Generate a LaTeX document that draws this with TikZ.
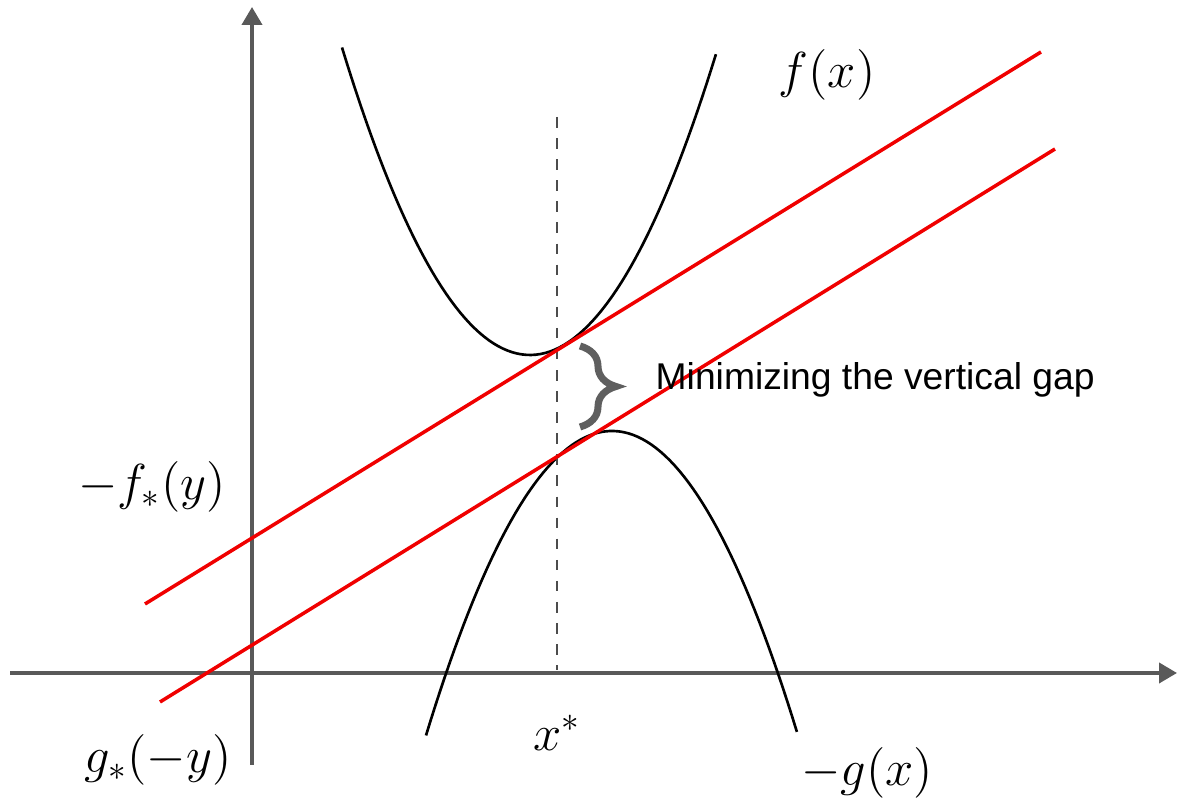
\documentclass[tikz,border=0pt]{standalone}
\usepackage{fontspec}
\usepackage{xcolor}
\usetikzlibrary{arrows.meta, decorations.pathreplacing}
\newfontfamily\labelfont{Liberation Sans}
\definecolor{axisgray}{HTML}{595959}
\definecolor{bracegray}{HTML}{5F5F5F}
\definecolor{tanred}{HTML}{F00000}

\begin{document}
\begin{tikzpicture}[
  axis/.style={
    line width=1.1pt, color=axisgray, -{Triangle[length=1.8mm, width=2mm]}
  },
  curve/.style={line width=0.75pt, color=black},
  tangent/.style={line width=1pt, color=tanred},
  guide/.style={dashed, line width=0.4pt, color=black!70},
  mathlbl/.style={font=\fontsize{14}{16}\selectfont, inner sep=1pt},
  textlbl/.style={font=\labelfont\fontsize{10.6}{13}\selectfont, inner sep=0pt}
]
\useasboundingbox (0,0) rectangle (11.78,7.98);

%% Axis positions
\def\xO{2.52}
\def\yO{1.25}
\def\xs{5.57}

%% === AXES ===
\coordinate (xl) at (0.10,\yO);
\coordinate (xr) at (11.77,\yO);
\coordinate (yb) at (\xO,0.33);
\coordinate (yt) at (\xO,7.91);
\draw[axis] (xl) -- (xr);
\draw[axis] (yb) -- (yt);

%% === CURVES f(x) and -g(x) ===
\draw[curve] plot[domain=3.42:7.16, samples=80] (\x, {4.43+0.87*(\x-5.30)^2});
\draw[curve] plot[domain=4.26:7.97, samples=80] (\x, {3.67-0.88*(\x-6.12)^2});

%% === DASHED LINE AT x* ===
\coordinate (dtop) at (\xs,6.81);
\coordinate (dbot) at (\xs,1.28);
\draw[guide] (dtop) -- (dbot);

%% === TANGENT LINES ===
\coordinate (ua) at (1.45,1.94);
\coordinate (ub) at (10.41,7.46);
\coordinate (la) at (1.60,0.96);
\coordinate (lb) at (10.55,6.49);
\draw[tangent] (ua) -- (ub);
\draw[tangent] (la) -- (lb);

%% === GAP BRACE ===
\coordinate (btop) at (5.80,4.52);
\coordinate (bbot) at (5.80,3.71);
\draw[line width=2pt, color=bracegray,
      decorate, decoration={brace, amplitude=0.36cm}] (btop) -- (bbot);
\node[textlbl, anchor=west] (gap) at (6.55,4.18) {Minimizing the vertical gap};

%% === LABELS ===
\node[mathlbl] (fx)   at (8.27,7.23) {$f(x)$};
\node[mathlbl] (fst)  at (1.52,3.11) {$-f_*(y)$};
\node[mathlbl] (gst)  at (1.58,0.38) {$g_*(-y)$};
\node[mathlbl] (xst)  at (\xs,0.65)  {$x^*$};
\node[mathlbl] (gx)   at (8.67,0.25) {$-g(x)$};

\end{tikzpicture}
\end{document}
